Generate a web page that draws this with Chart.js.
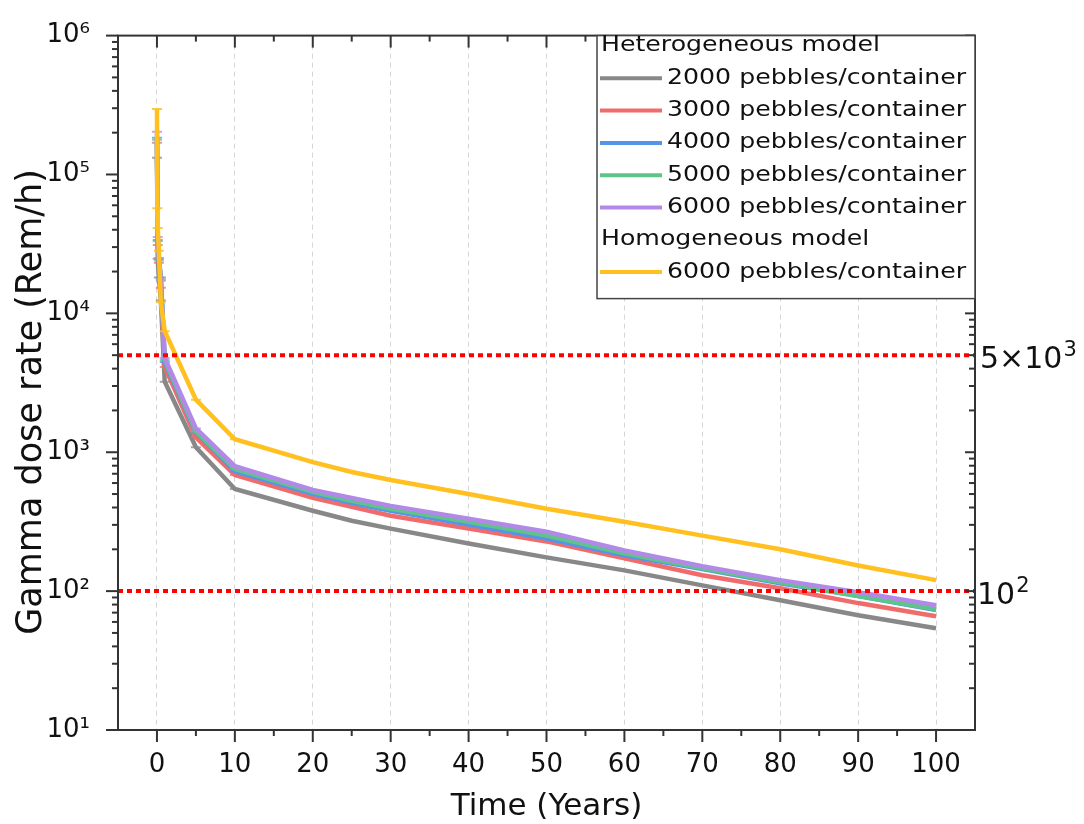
<!DOCTYPE html>
<html><head><meta charset="utf-8">
<script src="https://cdn.jsdelivr.net/npm/chart.js@4.4.1/dist/chart.umd.min.js"></script>
<style>html,body{margin:0;padding:0;background:#fff;} canvas{display:block;}</style>
</head><body>
<canvas id="c" width="1084" height="824"></canvas>
<script>
// ---- data ----
const times   = [0, 0.05, 0.1, 0.25, 0.5, 1, 5, 10, 20, 25, 30, 40, 50, 60, 70, 80, 90, 100];
const het2000 = [132000, null, 24700, 18100, 12400, 3215, 1086, 544, 379, 321, 282, 220, 175, 141, 110, 86, 67, 54];
const het3000 = [169000, null, 31100, 23100, 15300, 4115, 1280, 685, 469, 405, 349, 282, 228, 172, 130, 105, 82, 66];
const het4000 = [184000, null, 33800, 24700, 18100, 4467, 1390, 731, 501, 433, 379, 301, 239, 181, 144, 114, 92, 73];
const het5000 = [178000, null, 33000, 24000, 17600, 4610, 1410, 756, 518, 447, 392, 316, 251, 187, 146, 116, 92, 74];
const het6000 = [203000, null, 35500, 25000, 17200, 4770, 1483, 794, 535, 469, 411, 332, 268, 196, 151, 120, 98, 79];
const hom6000 = [296000, 57200, 41100, 28200, 12000, 7435, 2390, 1240, 849, 720, 631, 501, 392, 316, 251, 200, 153, 120];
const thresholds = [5000, 100];
const thresholdText = [['5×10', '3'], ['10', '2']];
const seriesNames = ['2000 pebbles/container', '3000 pebbles/container', '4000 pebbles/container',
                     '5000 pebbles/container', '6000 pebbles/container', '6000 pebbles/container'];
const groupTitles = ['Heterogeneous model', 'Homogeneous model'];
const xTickValues = [0, 10, 20, 30, 40, 50, 60, 70, 80, 90, 100];
const xMinorTicks = [5, 15, 25, 35, 45, 55, 65, 75, 85, 95];
const yMajorTicks = [10, 100, 1000, 10000, 100000, 1000000];
const yTickLabels = ['10¹', '10²', '10³', '10⁴', '10⁵', '10⁶'];
const xTitle = 'Time (Years)';
const yTitle = 'Gamma dose rate (Rem/h)';

// ---- styles ----
const colors = ['#888888', '#f06c6c', '#5694ea', '#5ec48a', '#b389e8', '#ffc020'];
const capColors = ['rgba(136,136,136,0.75)', 'rgba(240,108,108,0.75)', 'rgba(86,148,234,0.75)',
                   'rgba(94,196,138,0.75)', 'rgba(179,137,232,0.75)', 'rgba(255,192,32,0.85)'];
const seriesValues = [het2000, het3000, het4000, het5000, het6000, hom6000];
const drawOrder = [6, 5, 4, 3, 2, 1];

const datasets = seriesValues.map((vals, i) => ({
  label: seriesNames[i],
  data: times.map((t, j) => ({x: t, y: vals[j]})),
  borderColor: colors[i],
  backgroundColor: colors[i],
  borderWidth: 4.5,
  tension: 0,
  spanGaps: true,
  order: drawOrder[i],
  pointStyle: 'line',
  pointRadius: c => (c.raw && c.raw.x <= 10 ? 5 : 0),
  pointBorderWidth: 2,
  pointBorderColor: capColors[i],
  pointHoverRadius: 0
}));
thresholds.forEach(v => datasets.push({
  label: 'limit ' + v,
  data: [{x: -5, y: v}, {x: 105, y: v}],
  borderColor: '#ff0000',
  borderWidth: 4,
  borderDash: [5, 4],
  pointRadius: 0,
  order: 0
}));

const FONT = '"DejaVu Sans", Verdana, sans-serif';

const framePlugin = {
  id: 'frame',
  afterDraw(chart) {
    const {ctx, chartArea: a, scales: {x, y}} = chart;
    ctx.save();
    ctx.setLineDash([]);
    ctx.strokeStyle = '#333';
    ctx.lineWidth = 2;
    const seg = (x1, y1, x2, y2) => { ctx.beginPath(); ctx.moveTo(x1, y1); ctx.lineTo(x2, y2); ctx.stroke(); };
    // x ticks (bottom outward, top inward)
    xTickValues.forEach(v => { const p = x.getPixelForValue(v); seg(p, a.bottom, p, a.bottom + 12); seg(p, a.top, p, a.top + 12); });
    xMinorTicks.forEach(v => { const p = x.getPixelForValue(v); seg(p, a.bottom, p, a.bottom + 6); seg(p, a.top, p, a.top + 6); });
    // y ticks (left outward, right inward)
    yMajorTicks.forEach((d, k) => {
      const p = y.getPixelForValue(d);
      seg(a.left - 12, p, a.left, p);
      seg(a.right - 10, p, a.right, p);
      if (k < yMajorTicks.length - 1) {
        for (let m = 2; m <= 9; m++) {
          const q = y.getPixelForValue(d * m);
          seg(a.left - 6, q, a.left, q);
          seg(a.right - 6, q, a.right, q);
        }
      }
    });
    ctx.strokeRect(a.left, a.top, a.right - a.left, a.bottom - a.top);

    // y axis title
    ctx.save();
    ctx.fillStyle = '#111';
    ctx.font = '35px ' + FONT;
    ctx.translate(32, 402);
    ctx.rotate(-Math.PI / 2);
    ctx.textAlign = 'center';
    ctx.textBaseline = 'middle';
    ctx.fillText(yTitle, 0, 0);
    ctx.restore();

    // legend
    const lx = 597, ly = a.top, lw = a.right - 597, lh = 263;
    ctx.fillStyle = '#fff';
    ctx.fillRect(lx, ly, lw, lh);
    ctx.strokeStyle = '#444';
    ctx.lineWidth = 1.5;
    ctx.strokeRect(lx, ly, lw, lh);
    const rows = [
      {head: groupTitles[0]}, {s: 0}, {s: 1}, {s: 2}, {s: 3}, {s: 4},
      {head: groupTitles[1]}, {s: 5}
    ];
    const drawText = (t, tx, ty) => {
      ctx.save();
      ctx.translate(tx, ty);
      ctx.scale(1.2, 1);
      ctx.fillStyle = '#111';
      ctx.font = '21px ' + FONT;
      ctx.textAlign = 'left';
      ctx.textBaseline = 'middle';
      ctx.fillText(t, 0, 0);
      ctx.restore();
    };
    rows.forEach((r, i) => {
      const ry = 46 + i * 32.3;
      if (r.head) {
        drawText(r.head, 601, ry);
      } else {
        ctx.strokeStyle = colors[r.s];
        ctx.lineWidth = 4;
        seg(600, ry, 662, ry);
        drawText(seriesNames[r.s], 667, ry);
      }
    });

    // right-side threshold labels
    ctx.fillStyle = '#111';
    ctx.textAlign = 'left';
    ctx.textBaseline = 'alphabetic';
    thresholds.forEach((v, i) => {
      const p = y.getPixelForValue(v);
      ctx.font = '30px ' + FONT;
      const tx = a.right + (i === 0 ? 5 : 2);
      ctx.fillText(thresholdText[i][0], tx, p + 13);
      const w = ctx.measureText(thresholdText[i][0]).width;
      ctx.font = '21px ' + FONT;
      ctx.fillText(thresholdText[i][1], tx + w + 1, p + 1);
    });
    ctx.restore();
  }
};

new Chart(document.getElementById('c'), {
  type: 'line',
  data: {datasets},
  options: {
    responsive: false,
    animation: false,
    devicePixelRatio: 1,
    layout: {padding: {top: 25, right: 109, left: 0, bottom: 0}},
    plugins: {legend: {display: false}, tooltip: {enabled: false}},
    scales: {
      x: {
        type: 'linear',
        position: 'bottom',
        min: -5, max: 105,
        afterBuildTicks: s => { s.ticks = xTickValues.map(v => ({value: v})); },
        afterFit: s => { s.height = 94; },
        grid: {display: true, drawOnChartArea: true, drawTicks: false, color: '#d6d6d6', lineWidth: 1},
        border: {display: false, dash: [5, 4]},
        ticks: {autoSkip: false, maxRotation: 0, padding: 20, color: '#111', font: {family: FONT, size: 26}},
        title: {display: true, text: xTitle, color: '#111', font: {family: FONT, size: 31, lineHeight: 1}, padding: {top: 0, bottom: 2}}
      },
      y: {
        type: 'logarithmic',
        position: 'left',
        min: 10, max: 1000000,
        afterBuildTicks: s => { s.ticks = yMajorTicks.map(v => ({value: v})); },
        afterFit: s => { s.width = 118; },
        grid: {display: false},
        border: {display: false},
        ticks: {
          autoSkip: false, padding: 20, color: '#111', font: {family: FONT, size: 26},
          callback: v => { const k = yMajorTicks.indexOf(v); return k >= 0 ? yTickLabels[k] : ''; }
        }
      }
    }
  },
  plugins: [framePlugin]
});
</script>
</body></html>
